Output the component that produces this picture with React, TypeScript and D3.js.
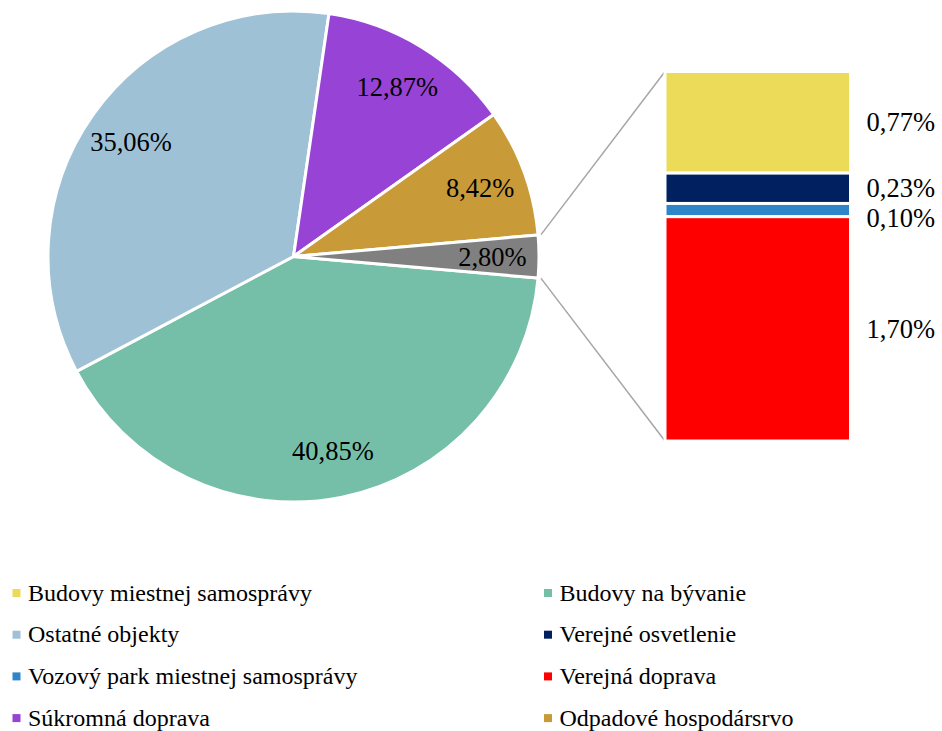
import React from 'react'
import { pie, arc, scaleLinear } from 'd3'

const pieLabels = ['Budovy na bývanie', 'Ostatné objekty', 'Súkromná doprava', 'Odpadové hospodársrvo', 'Ostatné']
const pieValues = [40.85, 35.06, 12.87, 8.42, 2.80]
const pieColors = ['#75BFA8', '#9FC1D6', '#9744D6', '#C89A38', '#808080']

const barLabels = ['Budovy miestnej samosprávy', 'Verejné osvetlenie', 'Vozový park miestnej samosprávy', 'Verejná doprava']
const barValues = [0.77, 0.23, 0.10, 1.70]
const barColors = ['#EBDB59', '#002060', '#2E86C9', '#FF0000']

const legendItems = [
  ['Budovy miestnej samosprávy', '#EBDB59'],
  ['Budovy na bývanie', '#75BFA8'],
  ['Ostatné objekty', '#9FC1D6'],
  ['Verejné osvetlenie', '#002060'],
  ['Vozový park miestnej samosprávy', '#2E86C9'],
  ['Verejná doprava', '#FF0000'],
  ['Súkromná doprava', '#9744D6'],
  ['Odpadové hospodársrvo', '#C89A38'],
]

const fmt = (v: number) => v.toFixed(2).replace('.', ',') + '%'

const App = () => {
  const width = 942
  const height = 731
  const cx = 293.5
  const cy = 256.5
  const radius = 245.5
  const font = '"Liberation Serif", "Times New Roman", serif'

  const total = pieValues.reduce((a, b) => a + b, 0)
  const other = pieValues[pieValues.length - 1]
  const half = Math.PI * other / total
  const start = Math.PI / 2 + half

  const slices = pie<number>()
    .sort(null)
    .value(d => d)
    .startAngle(start)
    .endAngle(start + 2 * Math.PI)(pieValues)

  const arcGen = arc<any>().innerRadius(0).outerRadius(radius)
  const labelArc = arc<any>().innerRadius(radius * 0.81).outerRadius(radius * 0.81)

  // stacked bar for the "other" slice
  const barSum = barValues.reduce((a, b) => a + b, 0)
  const yScale = scaleLinear().domain([0, barSum]).range([71.5, 441])
  const barX = 665
  const barW = 185.5
  let acc = 0
  const segs = barValues.map((v, i) => {
    const s = { y0: yScale(acc), y1: yScale(acc + v), v, i }
    acc += v
    return s
  })
  let prevY = -Infinity
  const labelYs = segs.map(s => {
    const y = Math.max((s.y0 + s.y1) / 2, prevY + 30)
    prevY = y
    return y
  })

  const edgeR = radius + 3
  const topA = Math.PI / 2 - half
  const botA = Math.PI / 2 + half
  const lineColor = '#A6A6A6'

  return (
    <svg width={width} height={height} style={{ position: 'absolute', left: 0, top: 0, background: '#fff' }} fontFamily={font}>
      <g transform={`translate(${cx},${cy})`}>
        {slices.map((s, i) => (
          <path key={pieLabels[i]} d={arcGen(s) as string} fill={pieColors[i]} stroke='#fff' strokeWidth={3} strokeLinejoin='round' />
        ))}
        {slices.map((s, i) => {
          const [x, y] = labelArc.centroid(s)
          return (
            <text key={'l' + i} x={x} y={y} textAnchor='middle' dominantBaseline='central' fontSize={26.5} fill='#000'>
              {fmt(pieValues[i])}
            </text>
          )
        })}
      </g>

      <line x1={cx + edgeR * Math.sin(topA)} y1={cy - edgeR * Math.cos(topA)} x2={barX} y2={yScale(0)} stroke={lineColor} strokeWidth={1.5} />
      <line x1={cx + edgeR * Math.sin(botA)} y1={cy - edgeR * Math.cos(botA)} x2={barX} y2={yScale(barSum)} stroke={lineColor} strokeWidth={1.5} />

      {segs.map(s => (
        <rect key={barLabels[s.i]} x={barX} y={s.y0} width={barW} height={s.y1 - s.y0} fill={barColors[s.i]} stroke='#fff' strokeWidth={3} />
      ))}
      {segs.map((s, i) => (
        <text key={'b' + i} x={barX + barW + 16} y={labelYs[i]} dominantBaseline='central' fontSize={26.5} fill='#000'>
          {fmt(s.v)}
        </text>
      ))}

      {legendItems.map(([name, color], i) => {
        const col = i % 2
        const row = Math.floor(i / 2)
        const x = col === 0 ? 12.5 : 544
        const y = 593 + row * 41.7
        return (
          <g key={name} transform={`translate(${x},${y})`}>
            <rect x={0} y={-4} width={8} height={8} fill={color} />
            <text x={15.5} y={7.5} fontSize={24} fill='#000'>{name}</text>
          </g>
        )
      })}
    </svg>
  )
}

export default App
